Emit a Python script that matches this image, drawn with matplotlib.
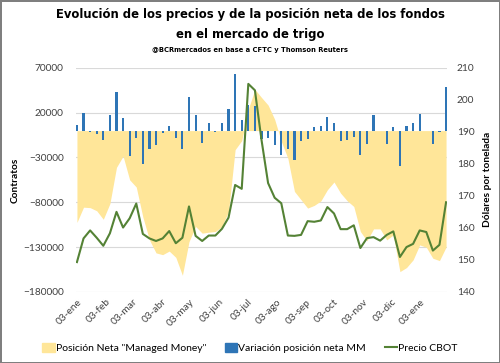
import numpy as np
import pandas as pd
import matplotlib
matplotlib.use('Agg')
import matplotlib.pyplot as plt
from matplotlib import font_manager
from matplotlib.patches import Patch
from matplotlib.lines import Line2D

# semanas desde el 03-ene-2017
start_date = '2017-01-03'

net_mm = [-102500, -85500, -86000, -89500, -99000, -81500, -41000, -28500, -55000, -63000,
          -96500, -122000, -136500, -138500, -134500, -141500, -161500, -124000, -107000, -114500,
          -113400, -112600, -107000, -90300, -21300, -11200, 24000, 46000, 37000, 28500,
          12500, -12000, -31000, -67900, -77200, -86500, -83500, -78500, -66000, -57400,
          -69800, -78300, -84700, -112600, -123100, -109700, -109700, -122000, -116400, -157400,
          -152900, -144300, -127600, -130200, -142500, -145100, -130000]

var_mm = [6000, 19300, -1500, -4200, -10900, 17400, 43400, 13700, -28300, -8600,
          -37600, -20900, -16100, -3000, 5100, -8600, -20900, 37800, 17000, -13800,
          8900, -1500, 8100, 23700, 62800, 11500, 28900, 27100, -9000, -8600,
          -16100, -27200, -20900, -32800, -11600, -9700, 3600, 5100, 15500, 8900,
          -11600, -10500, -6800, -27200, -14600, 17000, -1000, -14600, 4400, -39500,
          5100, 8900, 18200, -1000, -14600, -2000, 49000]

price_cbot = [149.3, 156.7, 159.2, 156.9, 154.4, 158.3, 165.0, 160.1, 163.0, 167.6,
              158.1, 156.7, 155.9, 156.7, 159.0, 155.2, 156.9, 166.7, 157.5, 155.9,
              157.6, 157.6, 159.7, 163.2, 173.4, 172.2, 205.0, 203.0, 187.5, 174.0,
              169.4, 167.7, 157.6, 157.5, 157.8, 162.1, 161.9, 162.3, 166.5, 164.5,
              159.6, 159.6, 160.8, 153.7, 156.8, 157.1, 156.0, 157.8, 158.9, 150.9,
              154.0, 155.0, 159.2, 158.7, 152.9, 154.7, 168.0]

tick_labels = ['03-ene', '03-feb', '03-mar', '03-abr', '03-may', '03-jun', '03-jul',
               '03-ago', '03-sep', '03-oct', '03-nov', '03-dic', '03-ene']

dates = pd.date_range(start_date, periods=len(net_mm), freq='7D')
tick_dates = pd.date_range('2017-01-01', periods=len(tick_labels), freq='MS') + pd.Timedelta(days=2)

c_area = '#FFE699'
c_bar = '#2E75B6'
c_line = '#548235'
font = 'Lato'
fs = 7.3

# titulo: fuente angosta si existe
fonts = font_manager.fontManager.ttflist
if any(f.name == 'Liberation Sans Narrow' for f in fonts):
    title_kw = dict(family='Liberation Sans Narrow', fontweight='bold', fontsize=11.5)
    sub_kw = dict(family='Liberation Sans Narrow', fontweight='bold', fontsize=6.3)
elif any(f.name == 'DejaVu Sans' and f.stretch == 'condensed' and f.weight == 700 for f in fonts):
    title_kw = dict(family='DejaVu Sans', fontstretch='condensed', fontweight='bold', fontsize=9.3)
    sub_kw = dict(family='DejaVu Sans', fontstretch='condensed', fontweight='bold', fontsize=5.4)
else:
    title_kw = dict(family='Roboto', fontweight='heavy', fontsize=9.1)
    sub_kw = dict(family='Roboto', fontweight='bold', fontsize=5.4)

fig = plt.figure(figsize=(5, 3.63), dpi=100)
fig.patch.set_edgecolor('#7f7f7f')
fig.patch.set_linewidth(2)

ax = fig.add_axes([0.152, 0.196, 0.742, 0.617])
ax.fill_between(dates, 0, net_mm, color=c_area, lw=0, zorder=1)
ax.bar(dates, var_mm, width=2.3, color=c_bar, zorder=2)
ax.set_ylim(-180000, 70000)
ax.set_yticks(np.arange(-180000, 70001, 50000))
ax.grid(axis='y', color='#D9D9D9', lw=0.8)
ax.set_axisbelow(True)
ax.set_xlim(dates[0] - pd.Timedelta(days=1), dates[-1] + pd.Timedelta(days=1))
ax.set_xticks(tick_dates)
ax.set_xticklabels(tick_labels, rotation=45, ha='right', rotation_mode='anchor',
                   fontsize=fs, family=font, color='#404040')
ax.tick_params(axis='both', length=0, labelsize=fs, labelcolor='#404040')
ax.tick_params(axis='y', pad=9)
ax.tick_params(axis='x', pad=4)
for lbl in ax.get_yticklabels():
    lbl.set_family(font)
ax.set_ylabel('Contratos', fontsize=fs, family=font, fontweight='bold', labelpad=2)

ax2 = ax.twinx()
ax2.plot(dates, price_cbot, color=c_line, lw=1.5, zorder=3)
ax2.set_ylim(140, 210)
ax2.set_yticks(np.arange(140, 211, 10))
ax2.tick_params(axis='y', length=0, labelsize=fs, labelcolor='#404040', pad=7)
for lbl in ax2.get_yticklabels():
    lbl.set_family(font)
ax2.set_ylabel('Dólares por tonelada', fontsize=fs, family=font, fontweight='bold', labelpad=6)

for a in (ax, ax2):
    for s in a.spines.values():
        s.set_visible(False)

fig.text(0.5, 0.96, 'Evolución de los precios y de la posición neta de los fondos',
         ha='center', va='center', **title_kw)
fig.text(0.5, 0.905, 'en el mercado de trigo', ha='center', va='center', **title_kw)
fig.text(0.5, 0.861, '@BCRmercados en base a CFTC y Thomson Reuters', ha='center', va='center',
         **sub_kw)

handles = [Patch(color=c_area), Patch(color=c_bar), Line2D([], [], color=c_line, lw=1.5)]
labels = ['Posición Neta "Managed Money"', 'Variación posición neta MM', 'Precio CBOT']
fig.legend(handles, labels, loc='center', bbox_to_anchor=(0.5, 0.041), ncol=3, frameon=False,
           handlelength=1.2, handleheight=0.9, handletextpad=0.1, columnspacing=1.8,
           prop={'family': font, 'size': fs + 0.2})

fig.savefig('out.png', dpi=100)
